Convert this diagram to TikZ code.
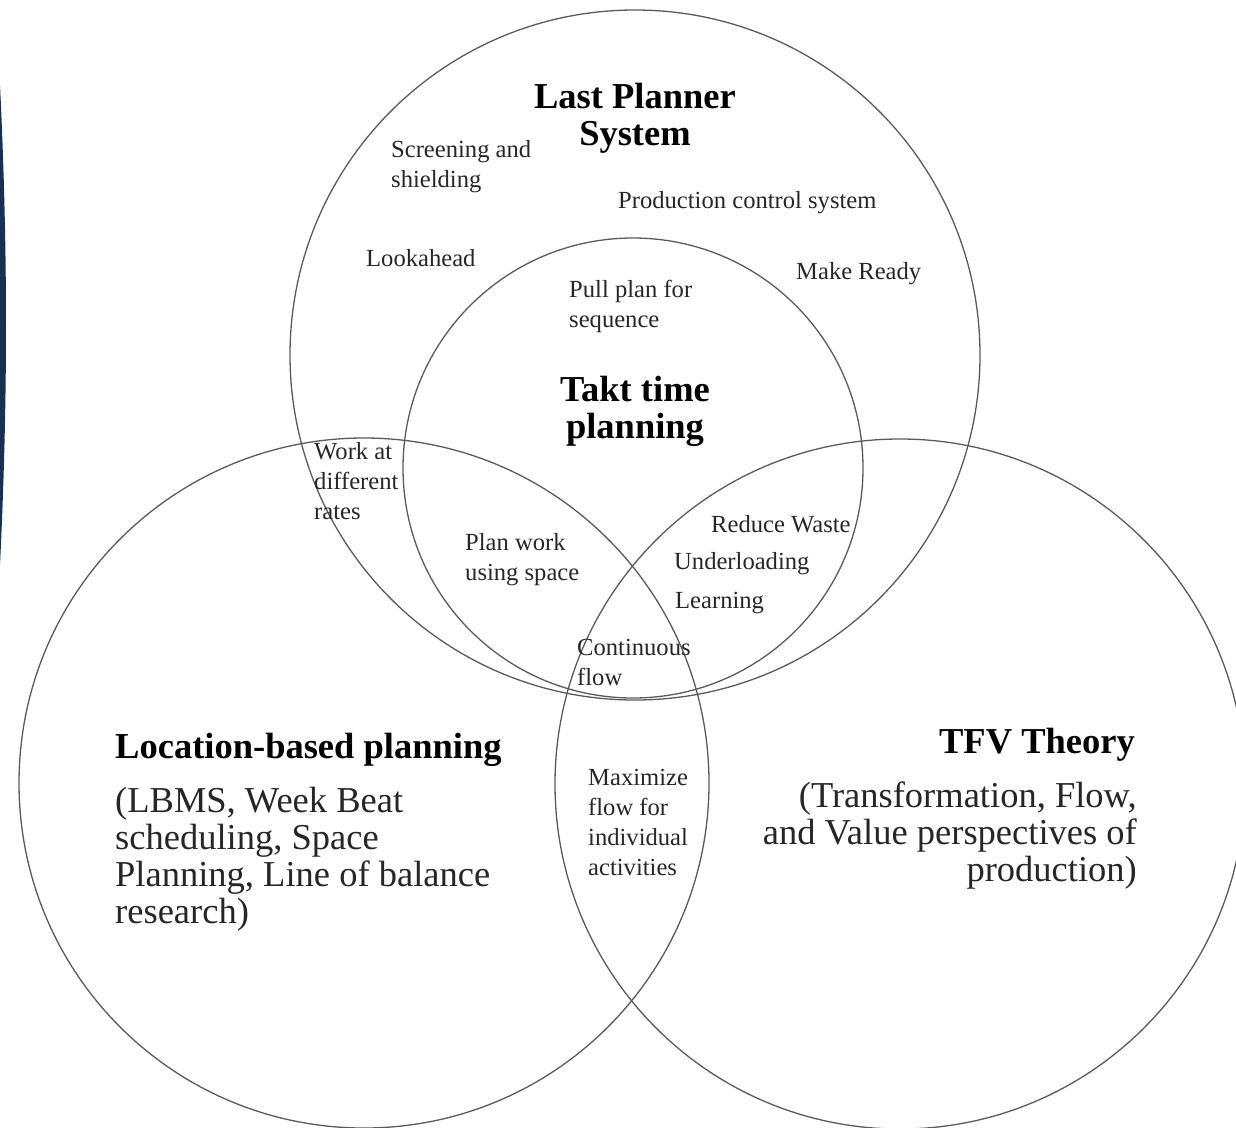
\documentclass[tikz,border=0pt]{standalone}
\usepackage{fontspec}
\setmainfont{Liberation Serif}
\definecolor{ringgray}{HTML}{5A5A5A}
\definecolor{navyedge}{HTML}{1B3050}
\tikzset{
  ring/.style={draw=ringgray,line width=1.3pt},
  small/.style={font=\fontsize{24.6}{30}\selectfont,inner sep=0pt,align=left,text=black!85},
  big/.style={font=\fontsize{36.5}{37}\selectfont,inner sep=0pt,text=black!85},
  head/.style={font=\fontsize{36.5}{37}\selectfont\bfseries,inner sep=0pt,text=black}
}
\begin{document}
\begin{tikzpicture}[x=1pt,y=-1pt,line join=round,line cap=round]
	\useasboundingbox (0,0) rectangle (1236,1127);
	\begin{scope}
		\clip (0,0) rectangle (1236,1127);
		% dark edge on the left
		\fill[navyedge] (0,85) .. controls (8,250) and (8,400) .. (0,565) -- cycle;
		% the four circles
		\draw[ring] (635,355) circle (345pt);
		\draw[ring] (633,468) circle (230pt);
		\draw[ring] (364,783) circle (345pt);
		\draw[ring] (900,784) circle (345pt);
	\end{scope}
	% Last Planner System
	\node[head,align=center] (lps) at (635,118) {Last Planner\\System};
	\node[small,anchor=west] (screen) at (391,167) {Screening and\\shielding};
	\node[small,anchor=west] (pcs) at (618,203) {Production control system};
	\node[small,anchor=west] (look) at (366,258) {Lookahead};
	\node[small,anchor=west] (ready) at (796,274) {Make Ready};
	% Takt time planning
	\node[small,anchor=west] (pull) at (569,306) {Pull plan for\\sequence};
	\node[head,align=center] (takt) at (635,411) {Takt time\\planning};
	\node[small,anchor=west] (rates) at (314,481) {Work at\\different\\rates};
	\node[small,anchor=west] (space) at (465,560) {Plan work\\using space};
	\node[small,anchor=west] (waste) at (711,524) {Reduce Waste};
	\node[small,anchor=west] (under) at (674,564) {Underloading};
	\node[small,anchor=west] (learn) at (675,603) {Learning};
	\node[small,anchor=west] (flow) at (577,662) {Continuous\\flow};
	% Location-based planning
	\node[head,anchor=west] (lbp) at (115,750) {Location-based planning};
	\node[big,anchor=west,align=left] (lbms) at (115,859) {(LBMS, Week Beat\\scheduling, Space\\Planning, Line of balance\\research)};
	\node[small,anchor=west] (maxflow) at (588,822) {Maximize\\flow for\\individual\\activities};
	% TFV Theory
	\node[head,anchor=east] (tfv) at (1135,745) {TFV Theory};
	\node[big,anchor=east,align=right] (tfvtext) at (1137,836) {(Transformation, Flow,\\and Value perspectives of\\production)};
\end{tikzpicture}
\end{document}
